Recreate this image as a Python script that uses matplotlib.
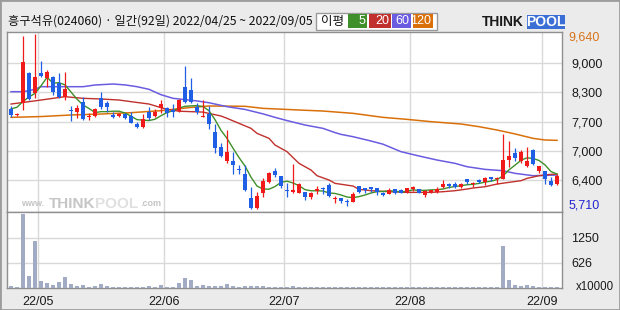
import numpy as np
import matplotlib
matplotlib.use("Agg")
import matplotlib.pyplot as plt
from matplotlib.patches import Rectangle

#=================
#data
#=================
opens = [7952, 7820, 8086, 8775, 8311, 8775, 8647, 8685, 8550, 8236, 7937, 7899, 8124, 7772, 7802, 8199,
         8101, 7825, 7802, 7847, 7802, 7623, 7563, 7899, 7802, 7974, 7974, 7937, 7914, 8460, 8386, 8011,
         7772, 7847, 7451, 7114, 6800, 6792, 6621, 6501, 5970, 5730, 6067, 6329, 6576, 6456, 6149, 6104,
         6082, 6104, 5992, 6127, 6187, 6254, 5940, 5955, 5902, 5880, 6231, 6187, 6209, 6187, 6082, 6060,
         6157, 6142, 6089, 6172, 6172, 6037, 6089, 6089, 6209, 6276, 6276, 6216, 6381, 6276, 6366, 6329,
         6426, 6389, 6389, 6815, 6964, 6792, 6680, 7039, 6576, 6568, 6351, 6269]
highs = [8027, 7877, 9597, 8797, 9640, 9036, 8834, 8700, 8775, 8790, 8027, 8049, 8236, 7862, 7974, 8341,
         8139, 7899, 7862, 7862, 7899, 7675, 7840, 8011, 7952, 8161, 7997, 8071, 8184, 8932, 8647, 8101,
         8161, 8027, 7623, 7189, 7488, 7002, 6703, 6703, 6216, 6104, 6403, 6553, 6643, 6456, 6306, 6725,
         6291, 6104, 6104, 6231, 6216, 6306, 6007, 5955, 5932, 6097, 6231, 6187, 6209, 6187, 6097, 6194,
         6157, 6157, 6194, 6239, 6172, 6142, 6142, 6201, 6366, 6291, 6321, 6291, 6381, 6321, 6381, 6441,
         6441, 6441, 7398, 7241, 7092, 7039, 7099, 7062, 6680, 6568, 6441, 6501]
lows = [7772, 7802, 7937, 8161, 8199, 8685, 8460, 8273, 8199, 8161, 7697, 7765, 7712, 7712, 7787, 7952,
        7899, 7750, 7787, 7727, 7638, 7525, 7525, 7712, 7787, 7877, 7787, 7772, 7884, 8101, 8086, 7847,
        7772, 7503, 6979, 6875, 6755, 6501, 6501, 6127, 5710, 5710, 5977, 6291, 6441, 6179, 5977, 6067,
        6067, 5917, 5932, 6052, 6052, 5977, 5857, 5842, 5790, 5865, 6067, 6082, 6104, 6030, 6015, 6045,
        6052, 6067, 6074, 6112, 6067, 5992, 6067, 6067, 6194, 6194, 6194, 6194, 6276, 6216, 6291, 6254,
        6351, 6269, 6389, 6665, 6792, 6755, 6650, 6695, 6531, 6276, 6239, 6254]
closes = [7825, 7830, 9014, 8184, 8685, 8707, 8790, 8348, 8236, 8400, 7907, 7989, 7735, 7802, 7959, 7997,
          8011, 7787, 7847, 7750, 7653, 7563, 7727, 7750, 7899, 8071, 7862, 7899, 8161, 8124, 8124, 7884,
          7802, 7623, 7092, 6905, 7002, 6703, 6591, 6142, 5730, 6015, 6351, 6531, 6478, 6239, 6119, 6134,
          6276, 5977, 6082, 6157, 6157, 6015, 5970, 5902, 5880, 6052, 6089, 6134, 6172, 6089, 6037, 6142,
          6082, 6082, 6179, 6209, 6082, 6112, 6142, 6164, 6276, 6231, 6209, 6276, 6321, 6299, 6329, 6411,
          6396, 6418, 6815, 6905, 6852, 6987, 6792, 6725, 6680, 6381, 6254, 6456]
volumes = [50, 25, 1835, 302, 1156, 176, 126, 75, 151, 277, 100, 50, 75, 25, 50, 100,
           50, 25, 25, 25, 25, 25, 25, 50, 25, 75, 25, 25, 126, 250, 200, 50,
           75, 50, 50, 50, 100, 50, 25, 50, 50, 50, 50, 25, 25, 25, 20, 50,
           20, 20, 20, 20, 20, 20, 20, 20, 20, 20, 20, 20, 20, 20, 20, 20,
           20, 20, 20, 20, 20, 20, 20, 20, 20, 20, 20, 20, 20, 20, 20, 20,
           20, 20, 1031, 201, 75, 50, 75, 50, 25, 25, 25, 25]

ma5 = [7960, 8000, 8130, 8230, 8310, 8480, 8670, 8540, 8550, 8500, 8340, 8180, 8050, 7970, 7880, 7900,
       7900, 7910, 7910, 7870, 7800, 7720, 7710, 7700, 7730, 7810, 7880, 7920, 7980, 8020, 8030, 8035,
       8015, 7920, 7720, 7480, 7300, 7080, 6870, 6680, 6430, 6230, 6165, 6160, 6220, 6315, 6340, 6300,
       6240, 6150, 6125, 6125, 6120, 6075, 6065, 6030, 5985, 5970, 5995, 6030, 6075, 6105, 6110, 6125,
       6115, 6100, 6115, 6145, 6135, 6135, 6145, 6150, 6165, 6200, 6220, 6240, 6260, 6270, 6290, 6320,
       6340, 6375, 6460, 6595, 6700, 6810, 6865, 6850, 6805, 6705, 6555, 6500]
ma20_idx = [0, 3, 5, 7, 9, 12, 15, 18, 20, 23, 25, 26, 28, 32, 35, 36, 38, 40, 41, 43, 44, 46, 47,
            48, 50, 51, 53, 54, 57, 58, 60, 63, 66, 70, 72, 74, 76, 77, 79, 81, 83, 85, 86, 88, 90, 91]
ma20 = [8071, 8124, 8161, 8199, 8236, 8199, 8184, 8161, 8124, 8071, 7990, 7950, 7910, 7890, 7802, 7750,
        7638, 7525, 7413, 7301, 7151, 7002, 6870, 6740, 6590, 6463, 6366, 6291, 6231, 6157, 6127, 6104,
        6089, 6089, 6104, 6127, 6164, 6187, 6216, 6276, 6314, 6351, 6403, 6463, 6493, 6501]
ma60_idx = [0, 2, 4, 5, 12, 14, 17, 19, 21, 23, 25, 27, 29, 31, 33, 36, 39, 42, 44, 46, 49, 52, 54,
            55, 57, 60, 62, 63, 65, 68, 71, 74, 76, 79, 82, 84, 87, 91]
ma60 = [8348, 8348, 8400, 8460, 8460, 8498, 8520, 8500, 8460, 8401, 8280, 8199, 8170, 8140, 8100, 8012,
        7950, 7850, 7772, 7700, 7600, 7525, 7430, 7390, 7338, 7241, 7170, 7114, 7002, 6905, 6815, 6740,
        6665, 6605, 6575, 6516, 6463, 6478]
ma120_idx = [0, 5, 10, 15, 20, 25, 30, 33, 39, 42, 48, 52, 57, 62, 66, 70, 75, 78, 81, 84, 87, 89, 91]
ma120 = [7772, 7790, 7825, 7847, 7877, 7922, 7995, 8027, 8020, 7974, 7937, 7914, 7862, 7772, 7727, 7675,
         7623, 7563, 7488, 7400, 7301, 7264, 7256]

price_ticks = [8985, 8330, 7675, 7020, 6365]
price_labels = ["9,000", "8,300", "7,700", "7,000", "6,400"]
price_max = 9640
price_min = 5710
vol_ticks = [626, 1250]
vol_labels = ["626", "1250"]
month_pos = [4.5, 25.5, 45.5, 66.5, 88.5]
month_labels = ["22/05", "22/06", "22/07", "22/08", "22/09"]
title = "흥구석유(024060) · 일간(92일) 2022/04/25 ~ 2022/09/05"
ma_names = ["5", "20", "60", "120"]

RED = "#f01a1a"
BLUE = "#1f5fe6"
MA_COLORS = ["#3f8f2a", "#c0302c", "#6a5ce0", "#d9700a"]
GRID = "#d9d9d9"
FRAME = "#8f8f8f"
LABEL_FONT = ["Liberation Sans", "DejaVu Sans"]
KR_FONT = ["Noto Sans CJK KR", "DejaVu Sans"]
LABEL_SIZE = 9


def draw_candles(ax, o, h, l, c):
    o, h, l, c = map(np.asarray, (o, h, l, c))
    idx = np.arange(len(o))
    colors = np.where(c >= o, RED, BLUE)
    ax.vlines(idx, l, h, colors=colors, linewidth=0.9, zorder=4)
    bottoms = np.minimum(o, c)
    heights = np.maximum(np.abs(c - o), 22)
    ax.bar(idx, heights, bottom=bottoms, width=0.8, color=colors, linewidth=0, zorder=5)


def style_frame(ax):
    for s in ax.spines.values():
        s.set_color(FRAME)
        s.set_linewidth(1.0)
    ax.set_facecolor("white")


#=================
#figure
#=================
fig = plt.figure(figsize=(6.2, 3.1), dpi=100, facecolor="#ebebeb")
W, H = 620.0, 310.0
x0, x1 = 7, 562
ax_p = fig.add_axes([x0 / W, 1 - 212.3 / H, (x1 - x0) / W, 180.3 / H])
ax_v = fig.add_axes([x0 / W, 1 - 287.7 / H, (x1 - x0) / W, 75.4 / H])

xlim = (-0.67, 91.83)

#=================
#price panel
#=================
style_frame(ax_p)
ax_p.set_xlim(*xlim)
ax_p.set_ylim(5642, 9687)
for m in month_pos:
    ax_p.axvline(m, color=GRID, linewidth=1.0, zorder=1)
ax_p.set_yticks(price_ticks, labels=price_labels)
ax_p.yaxis.tick_right()
ax_p.tick_params(axis="y", length=0, pad=6.5, labelsize=LABEL_SIZE, labelcolor="#1a1a1a")
for t in ax_p.get_yticklabels():
    t.set_family(LABEL_FONT)
ax_p.grid(axis="y", color=GRID, linewidth=1.0, zorder=1)
ax_p.set_xticks([])

# watermark (www.THINKPOOL.com), positions in pixels
wm_y = 1 - 204 / H
fig.text(21 / W, wm_y, "www.", fontsize=6.5, color="#c4c4c4", fontweight="bold", va="center",
         zorder=2, family=LABEL_FONT)
fig.text(49 / W, wm_y, "THINK", fontsize=11, color="#c6c6c6", fontweight="bold", va="center",
         zorder=2, family=LABEL_FONT)
fig.text(95 / W, wm_y, "POOL", fontsize=11, color="#e0e0e0", fontweight="bold", va="center",
         zorder=2, family=LABEL_FONT)
fig.text(140 / W, wm_y, ".com", fontsize=6.5, color="#c4c4c4", fontweight="bold", va="center",
         zorder=2, family=LABEL_FONT)

ax_p.plot(ma120_idx, ma120, color=MA_COLORS[3], linewidth=1.1, zorder=3)
ax_p.plot(ma60_idx, ma60, color=MA_COLORS[2], linewidth=1.1, zorder=3)
ax_p.plot(ma20_idx, ma20, color=MA_COLORS[1], linewidth=1.0, zorder=3)
ax_p.plot(np.arange(len(ma5)), ma5, color=MA_COLORS[0], linewidth=1.0, zorder=3)
draw_candles(ax_p, opens, highs, lows, closes)

ax_p.annotate(f"{price_max:,}", xy=(1, price_max), xycoords=("axes fraction", "data"),
              xytext=(6.5, -3.5), textcoords="offset pixels", va="center", ha="left",
              fontsize=LABEL_SIZE, color="#d8741a", family=LABEL_FONT)
ax_p.annotate(f"{price_min:,}", xy=(1, price_min), xycoords=("axes fraction", "data"),
              xytext=(6.5, 3.5), textcoords="offset pixels", va="center", ha="left",
              fontsize=LABEL_SIZE, color="#2424d0", family=LABEL_FONT)

#=================
#volume panel
#=================
style_frame(ax_v)
ax_v.set_xlim(*xlim)
ax_v.set_ylim(0, 1880)
for m in month_pos:
    ax_v.axvline(m, color=GRID, linewidth=1.0, zorder=1)
ax_v.set_yticks(vol_ticks, labels=vol_labels)
ax_v.yaxis.tick_right()
ax_v.tick_params(axis="y", length=0, pad=6.5, labelsize=LABEL_SIZE, labelcolor="#1a1a1a")
ax_v.grid(axis="y", color=GRID, linewidth=1.0, zorder=1)
ax_v.set_xticks(month_pos, labels=month_labels)
ax_v.tick_params(axis="x", length=0, pad=6, labelsize=LABEL_SIZE, labelcolor="#1a1a1a")
for t in ax_v.get_yticklabels() + ax_v.get_xticklabels():
    t.set_family(LABEL_FONT)
ax_v.bar(np.arange(len(volumes)), volumes, width=0.8, color="#a2abc4", linewidth=0, zorder=3)
fig.text(576 / W, 1 - 287.5 / H, "x10000", fontsize=8.3, color="#1a1a1a",
         va="center", ha="left", family=LABEL_FONT)

#=================
#header
#=================
fig.text(8 / W, 1 - 21.5 / H, title, fontsize=8.8, family=KR_FONT, va="center", ha="left",
         color="#111111")

# moving average legend box
fig.patches.append(Rectangle((316 / W, 1 - 29.5 / H), 121 / W, 17 / H, transform=fig.transFigure,
                             facecolor="white", edgecolor="#9a9a9a", linewidth=1.0))
fig.text(321 / W, 1 - 21.3 / H, "이평", fontsize=9, family=KR_FONT, va="center", ha="left",
         color="#111111")
box_x = [348, 369, 392, 413]
box_w = [19, 22, 19, 20]
for bx, bw, name, col in zip(box_x, box_w, ma_names, MA_COLORS):
    fig.patches.append(Rectangle((bx / W, 1 - 27.5 / H), bw / W, 13 / H, transform=fig.transFigure,
                                 facecolor=col, edgecolor="none"))
    fig.text((bx + bw - 1.5) / W, 1 - 21.3 / H, name, fontsize=9, color="white", va="center",
             ha="right", family=LABEL_FONT)

# logo
fig.text(482 / W, 1 - 22 / H, "THINK", fontsize=10, fontweight="bold", color="#1a1a1a",
         va="center", ha="left", family=LABEL_FONT)
fig.patches.append(Rectangle((527 / W, 1 - 28.5 / H), 38 / W, 13 / H, transform=fig.transFigure,
                             facecolor="#3b6fd6", edgecolor="none"))
fig.text(546 / W, 1 - 22 / H, "POOL", fontsize=10, fontweight="bold", color="white",
         va="center", ha="center", family=LABEL_FONT)

fig.patches.append(Rectangle((0, 0), 1, 1, transform=fig.transFigure, fill=False,
                             edgecolor="#9c9c9c", linewidth=2.0))

plt.savefig("out.png", dpi=100, facecolor=fig.get_facecolor())
plt.close()
